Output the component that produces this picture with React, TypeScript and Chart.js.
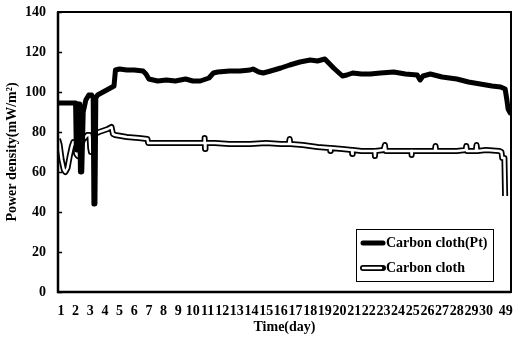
import React, { useEffect, useRef } from "react";
import { Chart, registerables } from "chart.js";

Chart.register(...registerables);

// Axis ticks
const xTickPositions = [
  1, 2, 3, 4, 5, 6, 7, 8, 9, 10, 11, 12, 13, 14, 15, 16, 17, 18, 19, 20,
  21, 22, 23, 24, 25, 26, 27, 28, 29, 30, 31.35,
];
const xTickLabels = [
  "1", "2", "3", "4", "5", "6", "7", "8", "9", "10", "11", "12", "13", "14", "15",
  "16", "17", "18", "19", "20", "21", "22", "23", "24", "25", "26", "27", "28", "29", "30", "49",
];
const yTickValues = [0, 20, 40, 60, 80, 100, 120, 140];

const seriesLabels = ["Carbon cloth(Pt)", "Carbon cloth"];

// Carbon cloth(Pt)
const ptTime = [
  0.8, 2.0, 2.05, 2.1, 2.15, 2.28, 2.33, 2.42, 2.52, 2.7, 2.9, 3.1, 3.2, 3.25, 3.32, 3.38,
  3.5, 4.0, 4.5, 4.62, 4.72, 5.0, 5.5, 6.0, 6.6, 6.8, 7.0, 7.3, 7.6, 8.2, 8.8, 9.5,
  10.0, 10.5, 11.1, 11.4, 11.7, 12.5, 13.2, 13.9, 14.1, 14.5, 14.8, 15.3, 16.0, 16.6,
  17.3, 18.0, 18.5, 19.0, 19.6, 20.2, 20.5, 20.9, 21.5, 22.1, 22.8, 23.7, 24.5, 25.3,
  25.5, 25.7, 26.2, 27.0, 28.0, 28.8, 29.6, 30.4, 31.0, 31.3, 31.42, 31.5, 31.65,
];
const ptPower = [
  94.5, 94.5, 71, 71, 94, 94, 60, 60, 90, 96, 98.5, 98.5, 97, 44, 44, 97,
  98.5, 100.5, 102.5, 103, 111, 111.5, 111, 111, 110.5, 109, 106.5, 106, 105.5, 106, 105.5, 106.5,
  105.5, 105.5, 107, 109.5, 110, 110.5, 110.5, 111, 111.5, 110, 109.5, 110.5, 112, 113.5,
  115, 116, 115.5, 116.5, 112, 108, 108.5, 109.5, 109, 109, 109.5, 110, 109, 108.5,
  106, 108, 109, 107.5, 106.5, 105, 104, 103, 102.5, 101.5, 96, 91.5, 89.5,
];

// Carbon cloth
const ccTime = [
  0.8, 0.9, 1.05, 1.2, 1.3, 1.45, 1.6, 1.75, 1.85, 1.95, 2.05, 2.15, 2.25, 2.5, 2.8, 2.95,
  3.0, 3.05, 3.1, 3.3, 3.6, 4.2, 4.45, 4.55, 4.7, 5.5, 6.3, 6.9, 6.95, 8.0, 9.0, 10.0,
  10.78, 10.8, 10.83, 10.86, 11.5, 12.5, 13.9, 15.0, 16.0, 16.55, 16.6, 16.65, 17.5, 18.5,
  19.35, 19.37, 19.4, 20.2, 20.85, 20.87, 20.9, 21.5, 22.4, 22.42, 22.45, 23.0, 23.1, 23.15,
  24.0, 24.9, 24.92, 24.95, 26.0, 26.5, 26.55, 26.6, 28.0, 28.6, 28.65, 28.7, 29.3, 29.35,
  29.4, 30.0, 30.9, 31.05, 31.1, 31.25, 31.3, 31.35,
];
const ccPower = [
  76.5, 74, 66, 61, 60, 62, 68, 73, 75, 74, 69, 68, 71, 76, 78.5, 78.5,
  72, 70, 77, 79, 80, 81.5, 82.5, 79, 78.5, 77.5, 77, 76.5, 74.5, 74.5, 74.5, 74.5,
  74.5, 77, 71.5, 74.5, 74.5, 74, 74, 74.5, 74, 74, 76.5, 74, 73.5, 72.5,
  72, 70.5, 72, 71.5, 71, 69, 71, 70.5, 70.5, 68, 70.5, 71, 73.5, 70.5,
  70.5, 70.5, 68.5, 70.5, 70.5, 70.5, 73, 70.5, 70.5, 71, 73, 70.5, 70.5, 73.5,
  70.5, 71, 70.5, 70, 67, 67, 48, 48,
];

const FONT = "'Liberation Serif', 'Times New Roman', serif";

const toPoints = (xs: number[], ys: number[]) => xs.map((x, i) => ({ x, y: ys[i] }));

const framePlugin = {
  id: "frameAndLegend",
  afterDraw(chart: any) {
    const { ctx, chartArea } = chart;
    const yScale = chart.scales.y;
    ctx.save();
    // inward y tick marks
    ctx.strokeStyle = "#000";
    ctx.lineWidth = 1.5;
    yTickValues.forEach((v) => {
      const py = Math.round(yScale.getPixelForValue(v)) + 0.5;
      ctx.beginPath();
      ctx.moveTo(chartArea.left, py);
      ctx.lineTo(chartArea.left + 4, py);
      ctx.stroke();
    });
    // frame
    ctx.lineWidth = 2;
    ctx.strokeRect(chartArea.left, chartArea.top, chartArea.right - chartArea.left, chartArea.bottom - chartArea.top);
    ctx.lineWidth = 2.5;
    ctx.beginPath();
    ctx.moveTo(chartArea.left, chartArea.top);
    ctx.lineTo(chartArea.left, chartArea.bottom);
    ctx.lineTo(chartArea.right, chartArea.bottom);
    ctx.stroke();

    // legend box
    const bx = 356, by = 229, bw = 137, bh = 52;
    ctx.fillStyle = "#fff";
    ctx.fillRect(bx, by, bw, bh);
    ctx.lineWidth = 1;
    ctx.strokeStyle = "#000";
    ctx.strokeRect(bx + 0.5, by + 0.5, bw, bh);
    const rows = [243, 268];
    ctx.lineCap = "round";
    // Pt sample
    ctx.lineWidth = 5;
    ctx.beginPath();
    ctx.moveTo(363, rows[0]);
    ctx.lineTo(383, rows[0]);
    ctx.stroke();
    // CC sample
    ctx.lineWidth = 6;
    ctx.beginPath();
    ctx.moveTo(363, rows[1]);
    ctx.lineTo(383, rows[1]);
    ctx.stroke();
    ctx.strokeStyle = "#fff";
    ctx.lineWidth = 2.5;
    ctx.beginPath();
    ctx.moveTo(363, rows[1]);
    ctx.lineTo(381, rows[1]);
    ctx.stroke();
    ctx.fillStyle = "#000";
    ctx.font = `bold 14px ${FONT}`;
    ctx.textBaseline = "middle";
    ctx.textAlign = "left";
    ctx.fillText(seriesLabels[0], 386, rows[0]);
    ctx.fillText(seriesLabels[1], 386, rows[1]);
    ctx.restore();
  },
};

export default function App() {
  const canvasRef = useRef<HTMLCanvasElement | null>(null);

  useEffect(() => {
    if (!canvasRef.current) return;
    const ccData = toPoints(ccTime, ccPower);
    const chart = new Chart(canvasRef.current, {
      type: "line",
      data: {
        datasets: [
          {
            label: seriesLabels[0],
            data: toPoints(ptTime, ptPower),
            borderColor: "#000",
            borderWidth: 5,
            pointRadius: 0,
            tension: 0,
            borderJoinStyle: "round",
            borderCapStyle: "round",
            order: 0,
          },
          {
            label: seriesLabels[1] + " inner",
            data: ccData,
            borderColor: "#fff",
            borderWidth: 2.5,
            pointRadius: 0,
            tension: 0,
            borderJoinStyle: "round",
            order: 1,
          },
          {
            label: seriesLabels[1],
            data: ccData,
            borderColor: "#000",
            borderWidth: 6,
            pointRadius: 0,
            tension: 0,
            borderJoinStyle: "round",
            order: 2,
          },
        ],
      },
      options: {
        animation: false,
        responsive: false,
        devicePixelRatio: 1,
        layout: { padding: { left: 0, right: 10, top: 12, bottom: 0 } },
        plugins: {
          legend: { display: false },
          tooltip: { enabled: false },
        },
        scales: {
          x: {
            type: "linear",
            min: 0.8,
            max: 31.7,
            afterBuildTicks: (scale: any) => {
              scale.ticks = xTickPositions.map((v) => ({ value: v }));
            },
            afterFit: (scale: any) => {
              scale.height = 47;
              scale.paddingLeft = 0;
              scale.paddingRight = 0;
            },
            ticks: {
              autoSkip: false,
              maxRotation: 0,
              minRotation: 0,
              padding: 11,
              color: "#000",
              font: { family: FONT, size: 14, weight: "bold" },
              callback: (_v: any, i: number) => xTickLabels[i],
            },
            grid: { display: false, drawTicks: false },
            border: { display: false },
            title: {
              display: true,
              text: "Time(day)",
              color: "#000",
              font: { family: FONT, size: 14, weight: "bold" },
              padding: { top: 0, bottom: 3 },
            },
          },
          y: {
            type: "linear",
            min: 0,
            max: 140,
            afterBuildTicks: (scale: any) => {
              scale.ticks = yTickValues.map((v) => ({ value: v }));
            },
            afterFit: (scale: any) => {
              scale.width = 58;
              scale.paddingTop = 0;
              scale.paddingBottom = 0;
            },
            ticks: {
              padding: 12,
              color: "#000",
              font: { family: FONT, size: 14, weight: "bold" },
            },
            grid: { display: false, drawTicks: false },
            border: { display: false },
            title: {
              display: true,
              text: "Power density(mW/m²)",
              color: "#000",
              font: { family: FONT, size: 14, weight: "bold" },
              padding: { top: 4, bottom: 0 },
            },
          },
        },
      },
      plugins: [framePlugin],
    } as any);
    return () => chart.destroy();
  }, []);

  return (
    <canvas
      ref={canvasRef}
      width={521}
      height={339}
      style={{ position: "fixed", left: 0, top: 0, width: 521, height: 339, display: "block", background: "#fff" }}
    />
  );
}
